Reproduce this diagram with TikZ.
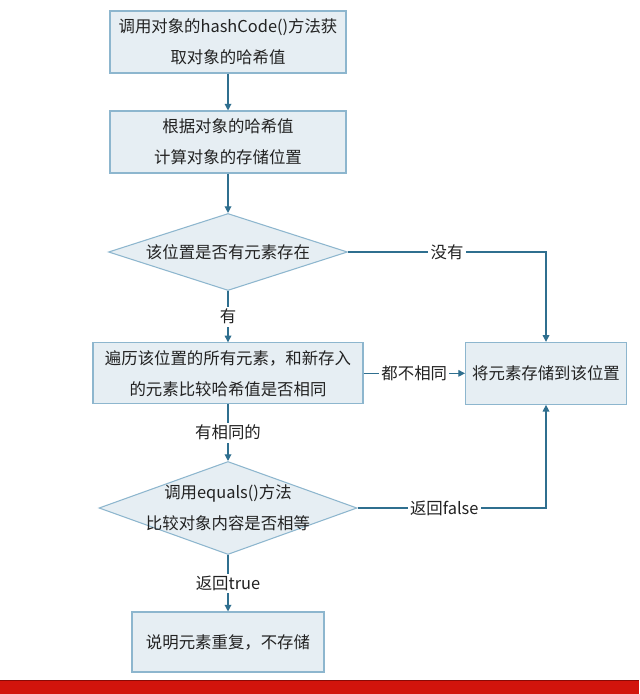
\documentclass[tikz,border=0pt]{standalone}
\usepackage{fontspec}
\newfontfamily\cjk{Noto Sans CJK SC}
\usepackage{xcolor}
\definecolor{flowline}{HTML}{2F6F8F}
\definecolor{boxedge}{HTML}{8DB6CE}
\definecolor{boxfill}{HTML}{E6EEF3}
\definecolor{inktext}{HTML}{222222}
\definecolor{barred}{HTML}{D2140C}
\definecolor{bardark}{HTML}{8A0A06}
\usetikzlibrary{shapes.geometric, arrows.meta, positioning, calc}

\begin{document}
\begin{tikzpicture}[
  every node/.style={font=\cjk\fontsize{14pt}{26.5pt}\selectfont, text=inktext},
  stepbox/.style={draw=boxedge, fill=boxfill, line width=0.9pt, align=center, inner sep=0pt},
  decision/.style={diamond, draw=boxedge, fill=boxfill, line width=0.9pt, aspect=3, inner sep=0pt},
  flow/.style={draw=flowline, line width=1pt, -{Triangle[length=2mm,width=2mm]}},
  tag/.style={fill=white, inner sep=2pt}
]
  \def\midx{6.84}
  \def\sidex{16.38}

  \fill[white] (0,0) rectangle (19.17,-20.82);
  \useasboundingbox (0,0) rectangle (19.17,-20.82);

  % steps down the middle
  \node[stepbox, minimum width=7.08cm, minimum height=1.86cm] (gethash) at (\midx,-1.26)
    {调用对象的hashCode()方法获\\取对象的哈希值};
  \node[stepbox, minimum width=7.08cm, minimum height=1.86cm] (calcpos) at (\midx,-4.26)
    {根据对象的哈希值\\计算对象的存储位置};
  \node[decision, minimum width=7.17cm, minimum height=2.31cm] (haselem) at (\midx,-7.56)
    {该位置是否有元素存在};
  \node[stepbox, minimum width=8.10cm, minimum height=1.83cm] (walkall) at (\midx,-11.2)
    {遍历该位置的所有元素，和新存入\\的元素比较哈希值是否相同};
  \node[decision, minimum width=7.74cm, minimum height=2.79cm] (calleq) at (\midx,-15.24) {};
  \node[align=center] (calleqtext) at (calleq) {调用equals()方法\\比较对象内容是否相等};
  \node[stepbox, minimum width=5.76cm, minimum height=1.80cm] (nostore) at (\midx,-19.26)
    {说明元素重复，不存储};

  % store box on the right
  \node[stepbox, minimum width=4.83cm, minimum height=1.86cm] (store) at (\sidex,-11.2)
    {将元素存储到该位置};

  % connectors
  \draw[flow] (gethash) -- (calcpos);
  \draw[flow] (calcpos) -- (haselem);
  \draw[flow] (haselem) -- node[tag] {有} (walkall);
  \draw[flow] (haselem.east) -| node[tag, pos=0.25] {没有} (store.north);
  \draw[flow] (walkall) -- node[tag] {都不相同} (store);
  \draw[flow] (walkall) -- node[tag] {有相同的} (calleq);
  \draw[flow] (calleq.east) -| node[tag, pos=0.23] {返回false} (store.south);
  \draw[flow] (calleq) -- node[tag] {返回true} (nostore);

  % red bar at the foot
  \fill[barred] (0,-20.40) rectangle (19.17,-20.82);
  \draw[bardark, line width=1pt] (0,-20.42) -- (19.17,-20.42);
\end{tikzpicture}
\end{document}
